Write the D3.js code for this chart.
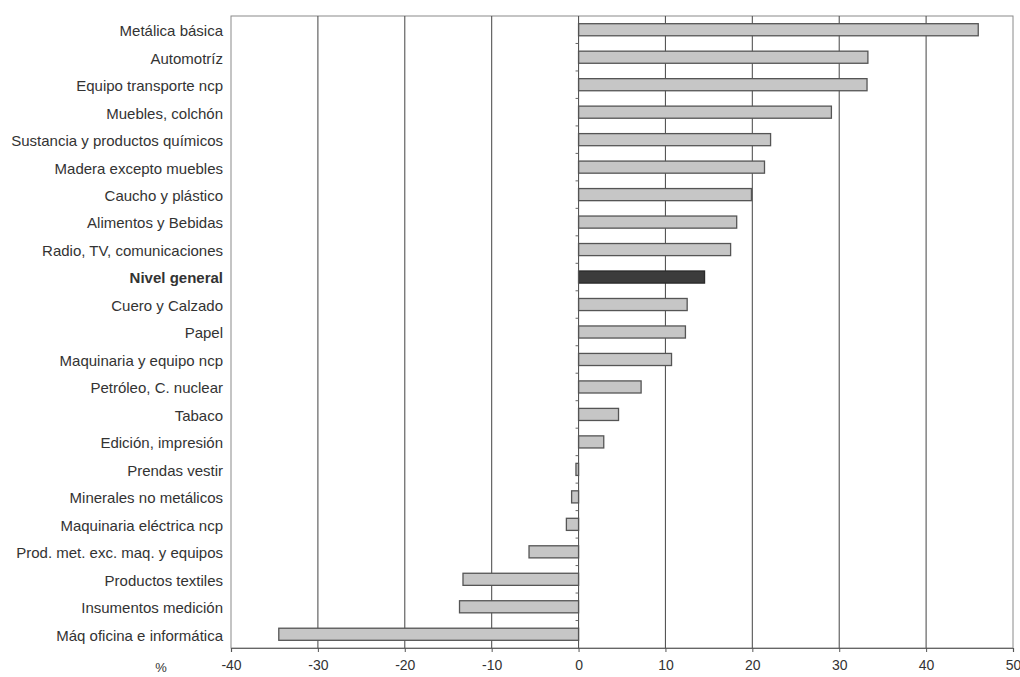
<!DOCTYPE html>
<html>
<head>
<meta charset="utf-8">
<script src="https://cdn.jsdelivr.net/npm/d3@7"></script>
<style>
  html, body { margin: 0; padding: 0; background: #ffffff; }
  svg { display: block; }
  text { font-family: "Liberation Sans", Arial, sans-serif; fill: #333; }
</style>
</head>
<body>
<svg id="chart" width="1020" height="677"></svg>
<script>
const categories = [
  "Metálica básica", "Automotríz", "Equipo transporte ncp", "Muebles, colchón",
  "Sustancia y productos químicos", "Madera excepto muebles", "Caucho y plástico",
  "Alimentos y Bebidas", "Radio, TV, comunicaciones", "Nivel general",
  "Cuero y Calzado", "Papel", "Maquinaria y equipo ncp", "Petróleo, C. nuclear",
  "Tabaco", "Edición, impresión", "Prendas vestir", "Minerales no metálicos",
  "Maquinaria eléctrica ncp", "Prod. met. exc. maq. y equipos", "Productos textiles",
  "Insumentos medición", "Máq oficina e informática"
];
const values = [
  46.0, 33.3, 33.2, 29.1,
  22.1, 21.4, 19.9,
  18.2, 17.5, 14.5,
  12.5, 12.3, 10.7, 7.2,
  4.6, 2.9, -0.3, -0.8,
  -1.4, -5.7, -13.3,
  -13.7, -34.5
];
const highlight = ["Nivel general"];
const xTicks = [-40, -30, -20, -10, 0, 10, 20, 30, 40, 50];
const unitLabel = "%";

const W = 1020, H = 677;
const margin = { top: 16, right: 7, bottom: 29, left: 231 };
const iw = W - margin.left - margin.right;
const ih = H - margin.top - margin.bottom;

const svg = d3.select("#chart");
const g = svg.append("g").attr("transform", `translate(${margin.left},${margin.top})`);

const x = d3.scaleLinear().domain([-40, 50]).range([0, iw]);
const y = d3.scaleBand().domain(categories).range([0, ih]).paddingInner(0.56).paddingOuter(0.28);

// frame
g.append("rect").attr("x", 0).attr("y", 0).attr("width", iw).attr("height", ih)
  .attr("fill", "none").attr("stroke", "#8a8a8a").attr("stroke-width", 1);

// gridlines
g.selectAll("line.grid").data(xTicks.filter(t => t !== -40 && t !== 50 && t !== 0))
  .enter().append("line").attr("class", "grid")
  .attr("x1", d => x(d)).attr("x2", d => x(d))
  .attr("y1", 0).attr("y2", ih)
  .attr("stroke", "#555").attr("stroke-width", 1.1);

// bars
g.selectAll("rect.bar").data(categories).enter().append("rect").attr("class", "bar")
  .attr("x", (d, i) => x(Math.min(0, values[i])))
  .attr("width", (d, i) => Math.abs(x(values[i]) - x(0)))
  .attr("y", d => y(d))
  .attr("height", y.bandwidth())
  .attr("fill", d => highlight.includes(d) ? "#3c3c3c" : "#c6c6c6")
  .attr("stroke", d => highlight.includes(d) ? "#2a2a2a" : "#555")
  .attr("stroke-width", 1.3);

// zero axis with category ticks
g.append("line").attr("x1", x(0)).attr("x2", x(0)).attr("y1", 0).attr("y2", ih)
  .attr("stroke", "#555").attr("stroke-width", 1.1);
const step = y.step();
const bounds = d3.range(1, categories.length).map(i => y(categories[i]) - (step - y.bandwidth()) / 2);
g.selectAll("line.ctick").data(bounds).enter().append("line").attr("class", "ctick")
  .attr("x1", x(0) - 3).attr("x2", x(0)).attr("y1", d => d).attr("y2", d => d)
  .attr("stroke", "#666").attr("stroke-width", 1);

// bottom axis
const xAxis = d3.axisBottom(x).tickValues(xTicks).tickSize(4).tickPadding(8).tickFormat(d => String(d));
const ax = g.append("g").attr("transform", `translate(0,${ih})`).call(xAxis);
ax.select(".domain").attr("stroke", "#666").attr("stroke-width", 1.2);
ax.selectAll(".tick line").attr("stroke", "#555");
ax.selectAll(".tick text").style("font-size", "14px").attr("fill", "#333")
  .style("font-family", "'Liberation Sans', Arial, sans-serif");

g.append("text").attr("x", -70).attr("y", ih + 24).attr("text-anchor", "middle")
  .style("font-size", "13px").text(unitLabel);

// category labels
g.selectAll("text.cat").data(categories).enter().append("text").attr("class", "cat")
  .attr("x", -8).attr("y", d => y(d) + y.bandwidth() / 2 + 1)
  .attr("dy", "0.36em").attr("text-anchor", "end")
  .style("font-size", "15px")
  .style("font-weight", d => highlight.includes(d) ? "bold" : "normal")
  .text(d => d);
</script>
</body>
</html>
